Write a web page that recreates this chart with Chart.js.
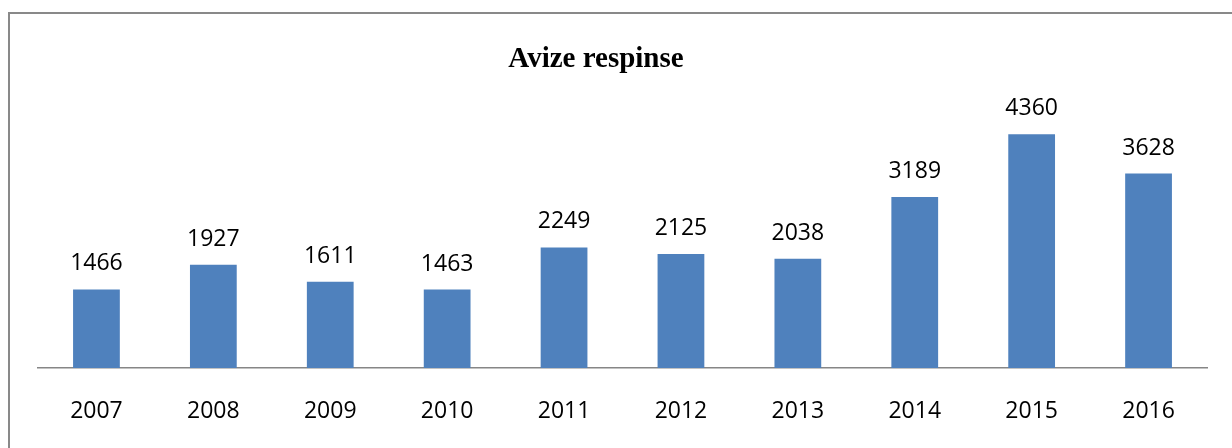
<!DOCTYPE html>
<html>
<head>
<meta charset="utf-8">
<script src="https://cdn.jsdelivr.net/npm/chart.js@4.4.0/dist/chart.umd.min.js"></script>
<style>
  html, body { margin: 0; padding: 0; background: #fff; overflow: hidden; }
  #frame {
    position: absolute; left: 8px; top: 12px; width: 1300px; height: 500px;
    border: 2px solid #898989; box-sizing: border-box;
  }
  #wrap { position: absolute; left: 0; top: 0; width: 1232px; height: 448px; }
</style>
</head>
<body>
<div id="frame"></div>
<div id="wrap"><canvas id="chart" width="1232" height="448"></canvas></div>
<script>
// date
const years = ['2007', '2008', '2009', '2010', '2011', '2012', '2013', '2014', '2015', '2016'];
const rejected = [1466, 1927, 1611, 1463, 2249, 2125, 2038, 3189, 4360, 3628];
const chartTitle = 'Avize respinse';

const BAR_COLOR = '#4F81BD';
const TEXT_FONT = '"Open Sans", "Liberation Sans", sans-serif';

// etichete de valori deasupra barelor
const valueLabels = {
    id: 'valueLabels',
    afterDatasetsDraw(chart) {
        const ctx = chart.ctx;
        const meta = chart.getDatasetMeta(0);
        ctx.save();
        ctx.fillStyle = '#000';
        ctx.font = '23px ' + TEXT_FONT;
        ctx.textAlign = 'center';
        ctx.textBaseline = 'alphabetic';
        meta.data.forEach((bar, i) => {
            ctx.fillText(String(rejected[i]), bar.x, bar.y - 19);
        });
        ctx.restore();
    }
};

// titlul, usor la stanga centrului, ca in original
const titlePlugin = {
    id: 'titlePlugin',
    afterDraw(chart) {
        const ctx = chart.ctx;
        ctx.save();
        ctx.fillStyle = '#000';
        ctx.font = 'bold 29px "Liberation Serif", "DejaVu Serif", serif';
        ctx.textAlign = 'center';
        ctx.textBaseline = 'alphabetic';
        ctx.fillText(chartTitle, 596, 67);
        ctx.restore();
    }
};

new Chart(document.getElementById('chart'), {
    type: 'bar',
    data: {
        labels: years,
        datasets: [{
            data: rejected,
            backgroundColor: BAR_COLOR,
            borderWidth: 0,
            barPercentage: 0.5,
            categoryPercentage: 0.8
        }]
    },
    options: {
        responsive: false,
        animation: false,
        layout: { padding: { left: 38, right: 25, top: 100, bottom: 24 } },
        plugins: {
            legend: { display: false },
            tooltip: { enabled: false },
            title: { display: false }
        },
        scales: {
            y: { display: false, min: 0, max: 5000 },
            x: {
                grid: { display: false, drawTicks: false },
                border: { display: true, color: '#868686', width: 1.5 },
                ticks: {
                    color: '#000',
                    padding: 30,
                    font: { family: TEXT_FONT, size: 23 }
                },
                afterFit(scale) { scale.height = 56; }
            }
        }
    },
    plugins: [valueLabels, titlePlugin]
});
</script>
</body>
</html>
